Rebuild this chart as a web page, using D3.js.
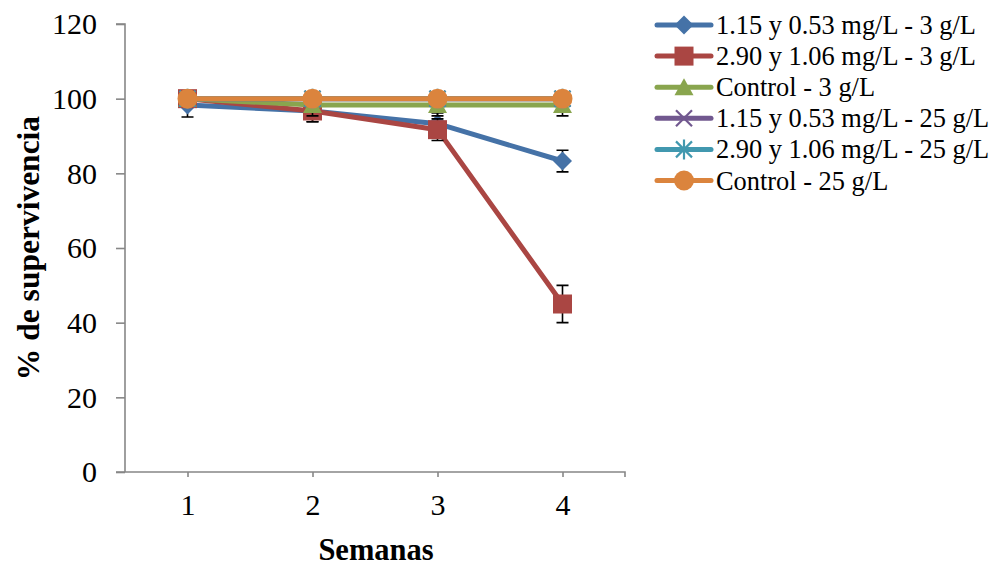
<!DOCTYPE html>
<html><head><meta charset="utf-8">
<script src="https://cdn.jsdelivr.net/npm/d3@7"></script>
<style>body{margin:0;background:#fff}svg{display:block}text{font-family:"Liberation Serif","Times New Roman",serif}</style>
</head><body><svg id="c" width="996" height="569"></svg>
<script>
const weeks = [1, 2, 3, 4];
const yTicks = [0, 20, 40, 60, 80, 100, 120];
const seriesNames = ["1.15 y 0.53 mg/L - 3 g/L", "2.90 y 1.06 mg/L - 3 g/L", "Control - 3 g/L",
  "1.15 y 0.53 mg/L - 25 g/L", "2.90 y 1.06 mg/L - 25 g/L", "Control - 25 g/L"];
const s1 = [98.3, 96.7, 93.3, 83.3];
const s2 = [100, 96.7, 91.7, 45.0];
const s3 = [100, 98.3, 98.3, 98.3];
const s4 = [100, 100, 100, 100];
const s5 = [100, 100, 100, 100];
const s6 = [100, 100, 100, 100];
const e1 = [3.2, 2.9, 2.9, 2.9];
const e2 = [0, 2.9, 2.9, 5.0];
const e3 = [0, 2.9, 2.9, 2.9];
const e4 = [0, 0, 0, 0];
const e5 = [0, 0, 0, 0];
const e6 = [0, 0, 0, 0];
const colors = ["#4572A7", "#AA4643", "#89A54E", "#71588F", "#4198AF", "#DB843D"];
const markers = ["diamond", "square", "triangle", "x", "star", "circle"];
const values = [s1, s2, s3, s4, s5, s6];
const errs = [e1, e2, e3, e4, e5, e6];

const svg = d3.select("#c");
const L = 125, R = 625, T = 24, B = 472;
const x = d3.scalePoint().domain(weeks).range([L, R]).padding(0.5);
const y = d3.scaleLinear().domain([0, 120]).range([B, T]);
const axisColor = "#878787";

// Y axis
const ya = svg.append("g").attr("transform", `translate(${L},0)`)
  .call(d3.axisLeft(y).tickValues(yTicks).tickSize(9).tickPadding(19));
ya.select(".domain").attr("stroke", axisColor).attr("stroke-width", 1.6).attr("d", `M-9,${T}H0V${B}`);
ya.selectAll(".tick line").attr("stroke", axisColor).attr("stroke-width", 1.6);
ya.selectAll(".tick text").attr("font-size", 30).attr("fill", "#000").attr("dy", "0.33em");

// X axis
const xa = svg.append("g").attr("transform", `translate(0,${B})`)
  .call(d3.axisBottom(x).tickSize(5).tickPadding(17));
xa.select(".domain").attr("stroke", axisColor).attr("stroke-width", 1.6).attr("d", `M${L - 9},0H${R}V5`);
xa.selectAll(".tick line").attr("stroke", axisColor).attr("stroke-width", 1.6);
xa.selectAll(".tick text").attr("font-size", 30).attr("fill", "#000");

// Titles
svg.append("text").attr("x", 376).attr("y", 560).attr("text-anchor", "middle")
  .attr("font-size", 30.5).attr("font-weight", "bold").text("Semanas");
svg.append("text").attr("transform", `translate(39,${248}) rotate(-90)`).attr("text-anchor", "middle")
  .attr("font-size", 31.5).attr("font-weight", "bold").text("% de supervivencia");

function drawMarker(g, type, cx, cy, color) {
  if (type === "diamond") {
    const r = 9.5;
    g.append("path").attr("d", `M${cx},${cy - r}L${cx + r},${cy}L${cx},${cy + r}L${cx - r},${cy}Z`).attr("fill", color);
  } else if (type === "square") {
    g.append("rect").attr("x", cx - 9.5).attr("y", cy - 9.5).attr("width", 19).attr("height", 19).attr("fill", color);
  } else if (type === "triangle") {
    g.append("path").attr("d", `M${cx},${cy - 9}L${cx + 9.5},${cy + 8}L${cx - 9.5},${cy + 8}Z`).attr("fill", color);
  } else if (type === "circle") {
    g.append("circle").attr("cx", cx).attr("cy", cy).attr("r", 10).attr("fill", color);
  } else if (type === "x") {
    const r = 8;
    g.append("path").attr("d", `M${cx - r},${cy - r}L${cx + r},${cy + r}M${cx - r},${cy + r}L${cx + r},${cy - r}`)
      .attr("stroke", color).attr("stroke-width", 2.2);
  } else if (type === "star") {
    const r = 8;
    g.append("path").attr("d", `M${cx - r},${cy - r}L${cx + r},${cy + r}M${cx - r},${cy + r}L${cx + r},${cy - r}M${cx},${cy - r - 2}V${cy + r + 2}`)
      .attr("stroke", color).attr("stroke-width", 2.2);
  }
}

const line = d3.line().x((d, i) => x(weeks[i])).y(d => y(d));
const plot = svg.append("g");
values.forEach((vals, si) => {
  const g = plot.append("g");
  g.append("path").datum(vals).attr("d", line).attr("fill", "none")
    .attr("stroke", colors[si]).attr("stroke-width", 5).attr("stroke-linejoin", "round");
  vals.forEach((v, i) => {
    const e = errs[si][i];
    if (e > 0) {
      const cx = x(weeks[i]);
      g.append("path").attr("d", `M${cx},${y(v + e)}V${y(v - e)}M${cx - 6},${y(v + e)}H${cx + 6}M${cx - 6},${y(v - e)}H${cx + 6}`)
        .attr("stroke", "#000").attr("stroke-width", 1.6).attr("fill", "none");
    }
  });
  vals.forEach((v, i) => drawMarker(g, markers[si], x(weeks[i]), y(v), colors[si]));
});

// Legend
const lg = svg.append("g");
seriesNames.forEach((name, i) => {
  const cy = 25 + i * 31.1;
  lg.append("line").attr("x1", 657).attr("x2", 711).attr("y1", cy).attr("y2", cy)
    .attr("stroke", colors[i]).attr("stroke-width", 5).attr("stroke-linecap", "round");
  drawMarker(lg, markers[i], 684, cy, colors[i]);
  lg.append("text").attr("x", 716).attr("y", cy + 9).attr("font-size", 26.4).attr("fill", "#000").text(name);
});
</script></body></html>
